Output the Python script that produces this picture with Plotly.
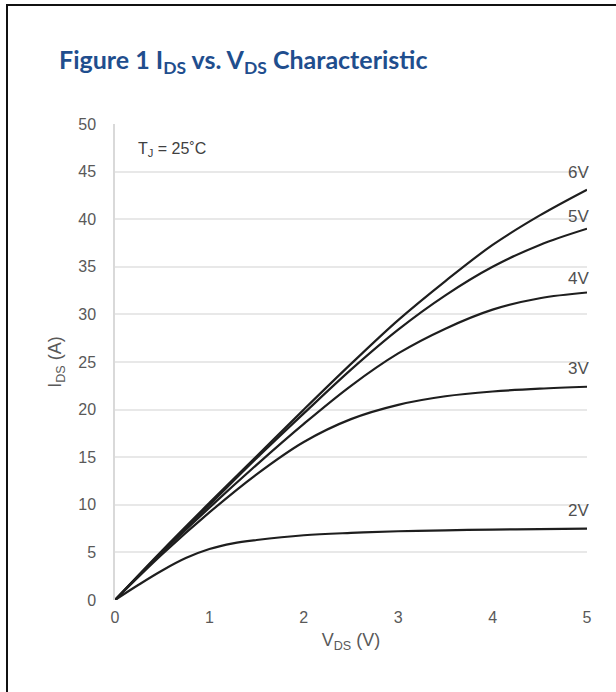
import plotly.graph_objects as go

# Data
vds = [0, 0.5, 1, 1.5, 2, 2.5, 3, 3.5, 4, 4.5, 5]
ids_6v = [0, 5.2, 10.2, 15.1, 20.0, 24.8, 29.4, 33.5, 37.3, 40.4, 43.1]
ids_5v = [0, 5.1, 10.0, 14.9, 19.6, 24.2, 28.4, 32.0, 35.0, 37.3, 39.0]
ids_4v = [0, 5.0, 9.7, 14.2, 18.5, 22.5, 25.9, 28.5, 30.5, 31.7, 32.3]
ids_3v = [0, 4.8, 9.2, 13.2, 16.6, 19.0, 20.5, 21.4, 21.9, 22.2, 22.4]
vds_2v = [0, 0.25, 0.5, 0.75, 1, 1.25, 1.5, 2, 2.5, 3, 3.5, 4, 4.5, 5]
ids_2v = [0, 1.6, 3.1, 4.4, 5.35, 5.95, 6.3, 6.8, 7.05, 7.22, 7.32, 7.4, 7.45, 7.5]

series = [
    ("6V", vds, ids_6v),
    ("5V", vds, ids_5v),
    ("4V", vds, ids_4v),
    ("3V", vds, ids_3v),
    ("2V", vds_2v, ids_2v),
]
label_y = {"6V": 44.9, "5V": 40.3, "4V": 33.8, "3V": 24.3, "2V": 9.35}

x_ticks = [0, 1, 2, 3, 4, 5]
y_ticks = [0, 5, 10, 15, 20, 25, 30, 35, 40, 45, 50]

W, H = 616, 692
L, R, T, B = 115, 29, 124, 92
pw, ph = W - L - R, H - T - B

def px(x):
    return (x - L) / pw

def py(y):
    return (H - B - y) / ph

fig = go.Figure()
for name, xs, ys in series:
    fig.add_trace(go.Scatter(
        x=xs, y=ys, mode="lines", name=name,
        line=dict(color="#1e1e1e", width=2.2, shape="spline", smoothing=1.0),
        hoverinfo="skip", showlegend=False,
    ))

FONT = "Liberation Sans, Arial, sans-serif"
tick_font = dict(family=FONT, size=16, color="#595959")

annotations = []
for name, _, _ in series:
    annotations.append(dict(
        x=px(591), y=label_y[name] / 50.0, xref="paper", yref="paper", text=name,
        showarrow=False, xanchor="right", yanchor="middle",
        font=dict(family=FONT, size=17, color="#505050"),
    ))
annotations.append(dict(
    x=px(136), y=47.3 / 50.0, xref="paper", yref="paper", text="T<sub>J</sub> = 25˚C",
    showarrow=False, xanchor="left", yanchor="middle",
    font=dict(family=FONT, size=16, color="#404040"),
))
annotations.append(dict(
    x=px(57), y=py(61), xref="paper", yref="paper",
    text="<b>Figure 1 I<sub>DS</sub> vs. V<sub>DS</sub> Characteristic</b>",
    showarrow=False, xanchor="left", yanchor="middle",
    font=dict(family="Lato, Open Sans, sans-serif", size=25, color="#1F4E8E"),
))

shapes = [
    dict(type="line", xref="paper", yref="paper",
         x0=px(7), x1=px(7), y0=py(5), y1=py(700),
         line=dict(color="#111111", width=2)),
    dict(type="line", xref="paper", yref="paper",
         x0=px(6), x1=px(620), y0=py(5), y1=py(5),
         line=dict(color="#111111", width=2)),
]

fig.update_layout(
    width=W, height=H,
    margin=dict(l=L, r=R, t=T, b=B),
    paper_bgcolor="white", plot_bgcolor="white",
    annotations=annotations, shapes=shapes,
    xaxis=dict(
        range=[0, 5], tickvals=x_ticks, ticktext=[str(v) for v in x_ticks],
        showgrid=False, zeroline=False, showline=False,
        ticks="", tickfont=tick_font, ticklabelstandoff=6,
        title=dict(text="V<sub>DS</sub> (V)", standoff=8,
                   font=dict(family=FONT, size=18, color="#595959")),
    ),
    yaxis=dict(
        range=[0, 50], tickvals=y_ticks, ticktext=[str(v) for v in y_ticks],
        showgrid=True, gridcolor="#e8e8e8", gridwidth=1.5,
        zeroline=False, showline=True, linecolor="#d9d9d9", linewidth=1.5,
        ticks="", tickfont=tick_font, ticklabelstandoff=14,
        title=dict(text="I<sub>DS</sub> (A)", standoff=12,
                   font=dict(family=FONT, size=18, color="#595959")),
    ),
)

fig.write_html("out.html")
